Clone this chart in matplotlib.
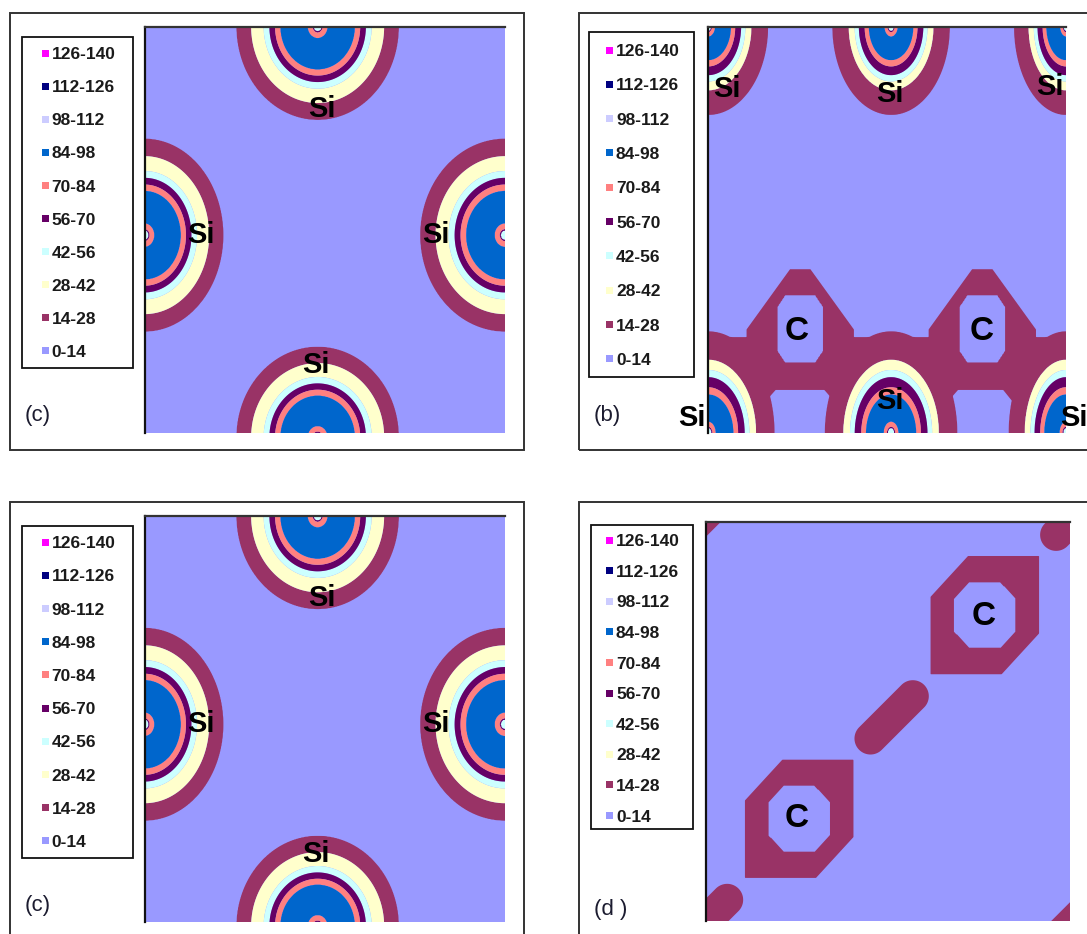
import numpy as np
import matplotlib
matplotlib.use("Agg")
import matplotlib.pyplot as plt
from matplotlib.patches import Rectangle

FIG_W, FIG_H = 1087, 934
FONT = "Liberation Sans"

# ------------------------------------------------------------------ data
LEVELS = [0, 14, 28, 42, 56, 70, 84, 98, 112, 126, 140]
LEVEL_COLORS = ["#9999FF", "#993366", "#FFFFCC", "#CCFFFF", "#660066",
                "#FF8080", "#0066CC", "#CCCCFF", "#000080", "#FF00FF"]
LEVEL_LABELS = ["0-14", "14-28", "28-42", "42-56", "56-70",
                "70-84", "84-98", "98-112", "112-126", "126-140"]

# radial density profiles: normalised distance -> density value
SI_C_RHO = [0.0, 0.05, 0.06, 0.12, 0.30, 0.46, 0.525, 0.595, 0.665, 0.82, 1.0, 1.6]
SI_C_VAL = [50, 56, 70, 84, 94, 84, 70, 56, 42, 28, 14, 0]
SI_B_RHO = [0.0, 0.05, 0.06, 0.11, 0.25, 0.38, 0.45, 0.55, 0.62, 0.72, 1.0, 1.6]
SI_B_VAL = [50, 56, 70, 84, 94, 84, 70, 56, 42, 28, 14, 0]
SHELL_RHO = [0.0, 0.9, 1.0, 1.3]
SHELL_VAL = [22, 20, 14, 0]
HOLE_RHO = [0.0, 1.0, 1.05]
HOLE_VAL = [7, 14, 1000]
BOND_RHO = [0.0, 0.8, 1.0, 1.5]
BOND_VAL = [22, 20, 14, 0]

# panel (c): Si atoms (u, v, rx, ry) in plot fractions (v downward)
C_SI = [(0.48, 0.0, 0.225, 0.229), (0.0, 0.513, 0.218, 0.237),
        (1.0, 0.513, 0.235, 0.237), (0.48, 1.01, 0.225, 0.222)]
C_LABELS = [("Si", 0.4925, 0.195), ("Si", 0.157, 0.507),
            ("Si", 0.809, 0.507), ("Si", 0.476, 0.825)]

# panel (b)
B_SI = [(0.0, 0.0, 0.167, 0.217), (0.511, 0.0, 0.164, 0.217), (1.0, 0.0, 0.145, 0.217),
        (0.0, 1.0, 0.185, 0.25), (0.511, 1.0, 0.185, 0.25), (1.0, 1.0, 0.16, 0.25)]
B_C = [(0.257, 0.744), (0.766, 0.744)]
B_C_SHELL = (0.036, 0.15, 0.183, 0.05, 1.19)   # v offset, rx, ry top, ry bottom, k
B_C_HOLE = (0.064, 0.084, 1.65)
B_BONDS = [(0, 3), (0, 4), (1, 4), (1, 5)]
B_BOND_W = 0.054
B_BAND_V = 0.829
B_BAND_HALF = 0.065
B_LABELS = [("Si", 0.052, 0.148), ("Si", 0.508, 0.158), ("Si", 0.955, 0.143),
            ("Si", 0.508, 0.914), ("C", 0.247, 0.741), ("C", 0.765, 0.741)]

# panel (d)
D_C = [(0.256, 0.744), (0.766, 0.234)]
D_C_SHELL = (0.149, 0.148, 1.31)
D_C_HOLE = (0.085, 0.083, 1.5)
D_BLOBS = [(0.51, 0.49), (0.0, 1.0), (1.02, -0.02), (-0.01, -0.01), (1.005, 1.005)]
D_BLOB_HALF = 0.075
D_BLOB_W = 0.04
D_LABELS = [("C", 0.25, 0.734), ("C", 0.764, 0.228)]


# ------------------------------------------------------------------ field helpers
def ell(U, V, cu, cv, rx, ry):
    return np.hypot((U - cu) / rx, (V - cv) / ry)


def octagon(U, V, cu, cv, rx, ry, k, ry_bottom=None):
    a = np.abs(U - cu) / rx
    dv = V - cv
    if ry_bottom is None:
        b = np.abs(dv) / ry
    else:
        b = np.where(dv < 0, -dv / ry, dv / ry_bottom)
    return np.maximum(np.maximum(a, b), (a + b) / k)


def cutsquare(U, V, cu, cv, rx, ry, k):
    a = (U - cu) / rx
    b = (V - cv) / ry
    return np.maximum(np.maximum(np.abs(a), np.abs(b)), np.abs(a + b) / k)


def seg_dist(X, Y, x0, y0, x1, y1):
    dx, dy = x1 - x0, y1 - y0
    t = np.clip(((X - x0) * dx + (Y - y0) * dy) / (dx * dx + dy * dy), 0, 1)
    return np.hypot(X - (x0 + t * dx), Y - (y0 + t * dy))


N = 600
U, V = np.meshgrid(np.linspace(0, 1, N), np.linspace(0, 1, N))


def field_c():
    F = np.zeros_like(U)
    for cu, cv, rx, ry in C_SI:
        F = np.maximum(F, np.interp(ell(U, V, cu, cv, rx, ry), SI_C_RHO, SI_C_VAL))
    return np.maximum(F, 2)


def field_b(aspect):
    F = np.zeros_like(U)
    for cu, cv, rx, ry in B_SI:
        F = np.maximum(F, np.interp(ell(U, V, cu, cv, rx, ry), SI_B_RHO, SI_B_VAL))
    X, Y = U * aspect, V
    for ci, si in B_BONDS:
        cu, cv = B_C[ci]
        su, sv = B_SI[si][:2]
        d = seg_dist(X, Y, cu * aspect, cv, su * aspect, sv)
        F = np.maximum(F, np.interp(d / B_BOND_W, BOND_RHO, BOND_VAL))
    F = np.maximum(F, np.interp(np.abs(V - B_BAND_V) / B_BAND_HALF, BOND_RHO, BOND_VAL))
    dv, rx, ry, ryb, k = B_C_SHELL
    for cu, cv in B_C:
        F = np.maximum(F, np.interp(octagon(U, V, cu, cv + dv, rx, ry, k, ryb),
                                    SHELL_RHO, SHELL_VAL))
    for cu, cv in B_C:
        F = np.minimum(F, np.interp(octagon(U, V, cu, cv, *B_C_HOLE), HOLE_RHO, HOLE_VAL))
    return np.maximum(F, 2)


def field_d(aspect):
    F = np.zeros_like(U)
    X, Y = U * aspect, V
    dirx, diry = 1 / np.sqrt(2), -1 / np.sqrt(2)
    for bu, bv in D_BLOBS:
        bx, by = bu * aspect, bv
        d = seg_dist(X, Y, bx - D_BLOB_HALF * dirx, by - D_BLOB_HALF * diry,
                     bx + D_BLOB_HALF * dirx, by + D_BLOB_HALF * diry)
        F = np.maximum(F, np.interp(d / D_BLOB_W, BOND_RHO, BOND_VAL))
    for cu, cv in D_C:
        F = np.maximum(F, np.interp(cutsquare(U, V, cu, cv, *D_C_SHELL), SHELL_RHO, SHELL_VAL))
    for cu, cv in D_C:
        F = np.minimum(F, np.interp(octagon(U, V, cu, cv, *D_C_HOLE), HOLE_RHO, HOLE_VAL))
    return np.maximum(F, 2)


# ------------------------------------------------------------------ figure
fig = plt.figure(figsize=(FIG_W / 100, FIG_H / 100), dpi=100)
fig.patch.set_facecolor("white")


def fx(x):
    return x / FIG_W


def fy(y):
    return 1 - y / FIG_H


def add_rect(x0, y0, x1, y1, lw, color, fc="none"):
    fig.add_artist(Rectangle((fx(x0), fy(y1)), fx(x1) - fx(x0), fy(y0) - fy(y1),
                             transform=fig.transFigure, fill=(fc != "none"),
                             facecolor=fc, lw=lw, edgecolor=color))


def plot_axes(box, F):
    x0, y0, x1, y1 = box
    ax = fig.add_axes([fx(x0), fy(y1), fx(x1) - fx(x0), fy(y0) - fy(y1)])
    ax.set_facecolor(LEVEL_COLORS[0])
    ax.contourf(U, V, F, levels=LEVELS, colors=LEVEL_COLORS, antialiased=True)
    ax.set_xlim(0, 1)
    ax.set_ylim(1, 0)
    ax.set_xticks([])
    ax.set_yticks([])
    ax.spines["right"].set_visible(False)
    ax.spines["bottom"].set_visible(False)
    ax.spines["left"].set_linewidth(1.6)
    ax.spines["left"].set_color("#111111")
    ax.spines["top"].set_linewidth(1.6)
    ax.spines["top"].set_color("#333333")
    return ax


def put_labels(box, labels):
    x0, y0, x1, y1 = box
    for txt, u, v in labels:
        px = x0 + u * (x1 - x0)
        py = y0 + v * (y1 - y0)
        size = 24 if txt == "C" else 21
        cap = 0.729 * size * 100 / 72
        fig.text(fx(px), fy(py + cap / 2), txt, fontsize=size, fontweight="bold",
                 family=FONT, ha="center", va="baseline", color="black")


def draw_legend(box, marker_x, text_x, row0, dy):
    add_rect(*box, lw=1.3, color="#111111")
    for i, (lab, col) in enumerate(zip(LEVEL_LABELS[::-1], LEVEL_COLORS[::-1])):
        y = row0 + i * dy
        fig.add_artist(Rectangle((fx(marker_x), fy(y + 3.5)), 7 / FIG_W, 7 / FIG_H,
                                 transform=fig.transFigure, facecolor=col, edgecolor="none"))
        fig.text(fx(text_x), fy(y + 6.2), lab, fontsize=12.5, fontweight="bold", family=FONT,
                 ha="left", va="baseline", color="#1a1a1a")


# panel frames
add_rect(10, 12.7, 524, 450, 1.4, "#333333")
add_rect(579.3, 12.7, 1100, 450, 1.4, "#333333")
add_rect(10, 502, 524, 945, 1.4, "#333333")
add_rect(579, 502, 1100, 945, 1.4, "#333333")

# plot boxes (pixel coordinates)
BOX1 = (144.7, 26.7, 505, 433)
BOX2 = (708.3, 26.7, 1066, 433)
BOX3 = (144.7, 516, 505, 922)
BOX4 = (706, 521.7, 1070, 921)

Fc = field_c()
plot_axes(BOX1, Fc)
plot_axes(BOX3, Fc)
plot_axes(BOX2, field_b((BOX2[2] - BOX2[0]) / (BOX2[3] - BOX2[1])))
plot_axes(BOX4, field_d((BOX4[2] - BOX4[0]) / (BOX4[3] - BOX4[1])))

put_labels(BOX1, C_LABELS)
put_labels(BOX3, C_LABELS)
put_labels(BOX2, B_LABELS)
put_labels(BOX4, D_LABELS)

# Si labels outside the (b) plot area
for px in (692, 1074):
    cap = 0.729 * 21 * 100 / 72
    fig.text(fx(px), fy(415 + cap / 2), "Si", fontsize=21, fontweight="bold", family=FONT,
             ha="center", va="baseline", color="black")

# legends
draw_legend((22, 37, 132.5, 368), 41.5, 51.5, 53, 33.1)
draw_legend((589.3, 31.7, 694, 377), 606, 616, 50, 34.3)
draw_legend((22, 525.7, 132.5, 858), 41.5, 51.5, 542, 33.2)
draw_legend((590.7, 525, 692.7, 829), 605.5, 616, 540, 30.6)

# panel tags
for txt, px, py in [("(c)", 38, 415), ("(b)", 607, 415), ("(c)", 38, 905), ("(d )", 611, 909)]:
    fig.text(fx(px), fy(py), txt, fontsize=16, family=FONT, ha="center", va="center",
             color="#1c1c30")

fig.savefig("out.png", dpi=100, facecolor="white")
